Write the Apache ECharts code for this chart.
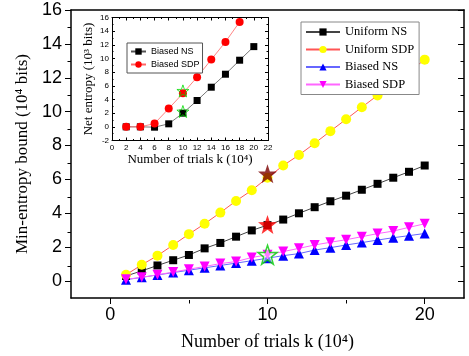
<!DOCTYPE html>
<html>
<head>
<meta charset="utf-8">
<script src="https://cdn.jsdelivr.net/npm/echarts@6/dist/echarts.min.js"></script>
<style>
  html, body { margin: 0; padding: 0; background: #fff; }
  #chart { width: 469px; height: 356px; }
</style>
</head>
<body>
<div id="chart"></div>
<script>
// main plot: k in units of 10^4 trials
const kValues = [1, 2, 3, 4, 5, 6, 7, 8, 9, 10, 11, 12, 13, 14, 15, 16, 17, 18, 19, 20]
const uniformNS = [0.3, 0.6, 0.92, 1.23, 1.54, 1.93, 2.25, 2.62, 2.99, 3.3, 3.63, 4.0, 4.36, 4.71, 5.04, 5.39, 5.74, 6.1, 6.45, 6.82]
const uniformSDP = [0.37, 0.96, 1.5, 2.13, 2.77, 3.38, 4.04, 4.73, 5.36, 6.1, 6.82, 7.44, 8.13, 8.85, 9.55, 10.26, 10.96, 11.65, 12.35, 13.07]
const biasedNS = [0.08, 0.22, 0.36, 0.5, 0.64, 0.78, 0.92, 1.06, 1.2, 1.35, 1.5, 1.62, 1.83, 1.97, 2.13, 2.27, 2.42, 2.56, 2.68, 2.81]
const biasedSDP = [0.1, 0.22, 0.37, 0.53, 0.7, 0.86, 1.03, 1.15, 1.39, 1.55, 1.74, 1.93, 2.13, 2.29, 2.44, 2.62, 2.8, 2.95, 3.17, 3.38]
const starDark = [[10, 6.33]]
const starRed = [[10, 3.34]]
const starGreen = [[10, 1.55]]

// inset: net entropy (10^3 bits)
const insetKNS = [2, 4, 6, 8, 10, 12, 14, 16, 18, 20]
const insetNS = [0, 0, -0.05, 0.44, 2.0, 3.85, 5.8, 7.7, 9.75, 11.74]
const insetKSDP = [2, 4, 6, 8, 10, 12, 14, 16, 18]
const insetSDP = [0, 0, 0.48, 2.67, 4.9, 7.27, 9.84, 12.43, 15.35]
const insetStars = [[10, 2.24], [10, 5.26]]

// tick positions
const mainXLabels = [0, 10, 20]
const mainXMinor = [5, 15]
const mainYLabels = [0, 2, 4, 6, 8, 10, 12, 14, 16]
const mainYMinor = [1, 3, 5, 7, 9, 11, 13, 15]

const serif = 'Liberation Serif'
const sans = 'Liberation Sans'
const star = 'path://M0,-10L2.35,-3.24L9.51,-3.09L3.8,1.24L5.88,8.09L0,4L-5.88,8.09L-3.8,1.24L-9.51,-3.09L-2.35,-3.24Z'

const mainRect = { left: 71, top: 10, right: 5, bottom: 56 }

function zip(xs, ys) {
    return xs.map(function (x, i) { return [x, ys[i]] })
}

// plain axis that only draws a line and/or ticks
function tickAxis(grid, pos, min, max, values, len, inside, showLine, width) {
    return {
        type: 'value', gridIndex: grid, position: pos, min: min, max: max,
        axisLine: { show: !!showLine, onZero: false, lineStyle: { color: '#000', width: width || 1 } },
        axisTick: { show: values.length > 0, customValues: values, length: len, inside: inside, lineStyle: { color: '#000', width: 1 } },
        axisLabel: { show: false },
        splitLine: { show: false }
    }
}

// inset axis with 2-step labels and minor ticks
function insetAxis(pos, min, max, labels, extra) {
    return Object.assign({
        type: 'value', gridIndex: 1, position: pos, min: min, max: max, interval: 2,
        axisLine: { onZero: false, lineStyle: { color: '#000', width: 1 } },
        axisTick: { inside: true, length: 3, lineStyle: { color: '#000' } },
        minorTick: { show: true, splitNumber: 2, length: 1.5, lineStyle: { color: '#000' } },
        axisLabel: { show: labels, fontFamily: sans, fontSize: 8, color: '#000', margin: 3 },
        splitLine: { show: false }
    }, extra || {})
}

const chart = echarts.init(document.getElementById('chart'))

const option = {
    animation: false,
    grid: [
        mainRect,
        { left: 112, top: 17.5, width: 156, height: 123 },
        Object.assign({}, mainRect),
        Object.assign({}, mainRect)
    ],
    legend: [
        {
            data: ['Uniform NS', 'Uniform SDP', 'Biased NS', 'Biased SDP'],
            orient: 'vertical', left: 301, top: 22,
            padding: [3, 5, 3, 4], itemGap: 3.5, itemWidth: 34, itemHeight: 9,
            backgroundColor: '#fff', borderColor: '#888', borderWidth: 1,
            textStyle: { fontFamily: serif, fontSize: 12.5, color: '#000', lineHeight: 14 }
        },
        {
            data: ['Biased NS (inset)', 'Biased SDP (inset)'],
            formatter: function (n) { return n.replace(' (inset)', '') },
            orient: 'vertical', left: 127, top: 43,
            padding: [4, 3, 4, 3], itemGap: 4, itemWidth: 15, itemHeight: 8,
            backgroundColor: '#fff', borderColor: '#555', borderWidth: 1,
            textStyle: { fontFamily: sans, fontSize: 9, color: '#000' }
        }
    ],
    xAxis: [
        {
            type: 'value', gridIndex: 0, position: 'bottom', min: -2.5, max: 22.5,
            name: 'Number of trials k (10⁴)', nameLocation: 'middle', nameGap: 35,
            nameTextStyle: { fontFamily: serif, fontSize: 18, color: '#000' },
            axisLine: { onZero: false, lineStyle: { color: '#000', width: 1.5 } },
            axisTick: { customValues: mainXLabels, length: 6, lineStyle: { color: '#000' } },
            axisLabel: { customValues: mainXLabels, fontFamily: sans, fontSize: 18, color: '#000', margin: 8 },
            splitLine: { show: false }
        },
        tickAxis(0, 'top', -2.5, 22.5, [], 3, true, true, 1.5),
        tickAxis(2, 'bottom', -2.5, 22.5, mainXMinor, 3.5, false, false),
        insetAxis('bottom', 0, 22, true, {
            name: 'Number of trials k (10⁴)', nameLocation: 'middle', nameGap: 13,
            nameTextStyle: { fontFamily: serif, fontSize: 13, color: '#000' }
        }),
        insetAxis('top', 0, 22, false),
        tickAxis(3, 'bottom', -2.5, 22.5, [], 3, false, false)
    ],
    yAxis: [
        {
            type: 'value', gridIndex: 0, position: 'left', min: -1, max: 16,
            name: 'Min-entropy bound (10⁴ bits)', nameLocation: 'middle', nameGap: 40, nameRotate: 90,
            nameTextStyle: { fontFamily: serif, fontSize: 17, color: '#000' },
            axisLine: { onZero: false, lineStyle: { color: '#000', width: 1.5 } },
            axisTick: { customValues: mainYLabels, length: 6, lineStyle: { color: '#000' } },
            axisLabel: { customValues: mainYLabels, fontFamily: sans, fontSize: 18, color: '#000', margin: 9 },
            splitLine: { show: false }
        },
        tickAxis(0, 'right', -1, 16, mainYLabels, 6, true, true, 1.5),
        tickAxis(2, 'left', -1, 16, mainYMinor, 3.5, false, false),
        tickAxis(3, 'right', -1, 16, mainYMinor, 3.5, true, false),
        insetAxis('left', -2, 16, true, {
            name: 'Net entropy (10³ bits)', nameLocation: 'middle', nameGap: 17, nameRotate: 90,
            nameTextStyle: { fontFamily: serif, fontSize: 13, color: '#000' }
        }),
        insetAxis('right', -2, 16, false)
    ],
    series: [
        {
            name: 'Uniform NS', type: 'line', xAxisIndex: 0, yAxisIndex: 0,
            data: zip(kValues, uniformNS), symbol: 'rect', symbolSize: 8,
            itemStyle: { color: '#000' }, lineStyle: { color: '#444', width: 1 }
        },
        {
            name: 'Uniform SDP', type: 'line', xAxisIndex: 0, yAxisIndex: 0,
            data: zip(kValues, uniformSDP), symbol: 'circle', symbolSize: 10,
            itemStyle: { color: '#ffff00' }, lineStyle: { color: '#ff5555', width: 1 }
        },
        {
            name: 'Biased NS', type: 'line', xAxisIndex: 0, yAxisIndex: 0,
            data: zip(kValues, biasedNS), symbol: 'triangle', symbolSize: 10,
            itemStyle: { color: '#0000ff' }, lineStyle: { color: '#6666ff', width: 1 }
        },
        {
            name: 'Biased SDP', type: 'line', xAxisIndex: 0, yAxisIndex: 0,
            data: zip(kValues, biasedSDP), symbol: 'triangle', symbolRotate: 180, symbolSize: 10,
            itemStyle: { color: '#ff00ff' }, lineStyle: { color: '#ff66ff', width: 1 }
        },
        {
            type: 'scatter', xAxisIndex: 0, yAxisIndex: 0, data: starDark, symbol: star, symbolSize: 19,
            itemStyle: { color: '#7a0000' }, z: 5
        },
        {
            type: 'scatter', xAxisIndex: 0, yAxisIndex: 0, data: starRed, symbol: star, symbolSize: 19,
            itemStyle: { color: '#ff0000' }, z: 5
        },
        {
            type: 'scatter', xAxisIndex: 0, yAxisIndex: 0, data: starGreen, symbol: star, symbolSize: 19,
            itemStyle: { color: 'rgba(255,255,255,0.6)', borderColor: '#00cc00', borderWidth: 1.5 }, z: 5
        },
        {
            name: 'Biased NS (inset)', type: 'line', xAxisIndex: 3, yAxisIndex: 4,
            data: zip(insetKNS, insetNS), symbol: 'rect', symbolSize: 7,
            itemStyle: { color: '#000' }, lineStyle: { color: '#555', width: 0.8 }
        },
        {
            name: 'Biased SDP (inset)', type: 'line', xAxisIndex: 3, yAxisIndex: 4,
            data: zip(insetKSDP, insetSDP), symbol: 'circle', symbolSize: 8,
            itemStyle: { color: '#ff0000' }, lineStyle: { color: '#ff6666', width: 0.8 }
        },
        {
            type: 'scatter', xAxisIndex: 3, yAxisIndex: 4, data: insetStars, symbol: star, symbolSize: 12,
            itemStyle: { color: 'rgba(255,255,255,0)', borderColor: '#00dd00', borderWidth: 1 }, z: 5
        }
    ]
}

chart.setOption(option)
</script>
</body>
</html>
